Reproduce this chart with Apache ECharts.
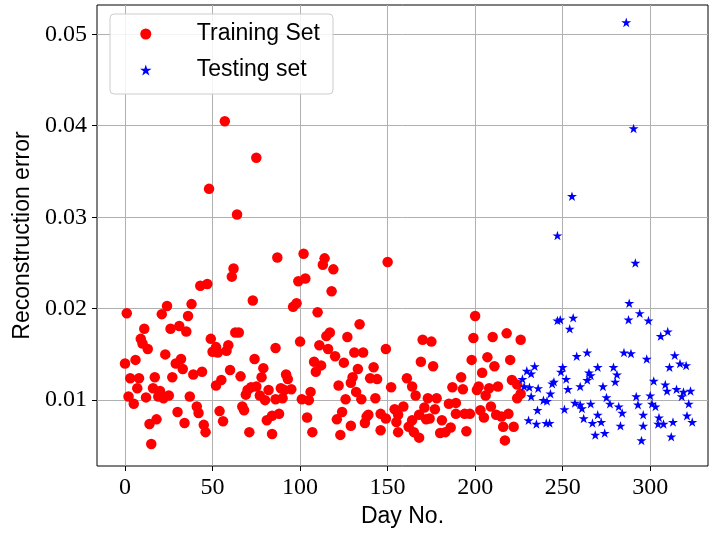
<!DOCTYPE html>
<html>
<head>
<meta charset="utf-8">
<script src="https://cdn.jsdelivr.net/npm/echarts@6/dist/echarts.min.js"></script>
<style>
html,body{margin:0;padding:0;background:#fff;}
#chart{width:716px;height:535px;}
</style>
</head>
<body>
<div id="chart"></div>
<script>
const trainDays = [0,1,2,3,5,6,7,8,9,10,11,12,13,14,15,16,17,18,19,20,21,22,23,24,25,26,27,29,30,31,32,33,34,35,36,37,38,39,41,42,43,44,45,46,47,48,49,50,52,52,53,54,55,56,57,58,59,60,61,62,63,64,65,66,67,68,69,70,71,72,73,74,75,75,77,78,79,80,81,82,84,84,86,86,87,88,89,90,91,92,93,95,96,98,99,100,101,102,103,104,105,106,107,108,109,110,111,112,113,114,115,116,117,118,119,120,121,122,123,124,125,126,127,129,129,130,131,132,133,134,135,136,137,138,139,140,142,143,144,146,146,149,149,150,152,154,155,156,156,159,161,162,164,164,165,166,168,168,169,170,171,172,173,174,175,176,177,178,180,181,183,185,186,187,189,189,192,193,194,195,197,198,199,200,201,202,203,204,205,206,207,208,209,210,211,212,213,215,216,217,218,219,220,221,222,224,224,226,226];
const trainErrors = [0.0140,0.0195,0.0104,0.0124,0.0096,0.0144,0.0113,0.0124,0.0167,0.0162,0.0178,0.0103,0.0156,0.0074,0.0052,0.0113,0.0125,0.0079,0.0104,0.0110,0.0194,0.0102,0.0150,0.0203,0.0105,0.0178,0.0125,0.0140,0.0087,0.0181,0.0145,0.0134,0.0075,0.0175,0.0192,0.0104,0.0205,0.0128,0.0093,0.0086,0.0225,0.0131,0.0073,0.0065,0.0227,0.0331,0.0167,0.0153,0.0158,0.0116,0.0152,0.0088,0.0122,0.0077,0.0405,0.0154,0.0160,0.0133,0.0235,0.0244,0.0174,0.0303,0.0174,0.0126,0.0093,0.0089,0.0106,0.0111,0.0065,0.0114,0.0209,0.0145,0.0365,0.0115,0.0105,0.0125,0.0135,0.0100,0.0078,0.0111,0.0083,0.0063,0.0157,0.0101,0.0256,0.0085,0.0113,0.0102,0.0111,0.0128,0.0123,0.0112,0.0202,0.0206,0.0230,0.0164,0.0101,0.0260,0.0233,0.0081,0.0100,0.0109,0.0065,0.0142,0.0131,0.0196,0.0160,0.0138,0.0248,0.0255,0.0170,0.0156,0.0174,0.0219,0.0243,0.0148,0.0079,0.0116,0.0062,0.0087,0.0141,0.0101,0.0169,0.0119,0.0072,0.0125,0.0152,0.0109,0.0134,0.0183,0.0101,0.0152,0.0075,0.0082,0.0084,0.0124,0.0136,0.0102,0.0123,0.0085,0.0067,0.0156,0.0080,0.0251,0.0114,0.0090,0.0076,0.0084,0.0065,0.0093,0.0124,0.0071,0.0115,0.0078,0.0065,0.0105,0.0084,0.0059,0.0142,0.0166,0.0092,0.0079,0.0102,0.0080,0.0164,0.0137,0.0090,0.0102,0.0064,0.0078,0.0065,0.0096,0.0070,0.0114,0.0097,0.0085,0.0125,0.0112,0.0085,0.0066,0.0085,0.0144,0.0168,0.0192,0.0111,0.0115,0.0089,0.0130,0.0081,0.0105,0.0147,0.0113,0.0093,0.0169,0.0137,0.0084,0.0115,0.0082,0.0071,0.0056,0.0173,0.0085,0.0144,0.0122,0.0071,0.0117,0.0102,0.0166,0.0107];
const testDays = [227,228,229.5,230.5,231,232,232,234,235,235.6,236,239,240.6,241,242.5,243,244,245,247,247,248.6,249,250,251,252,253,254,255.3,256,257,258,260,260,261,262,264,264,265,266,266,267,268.6,270,270,272,273,274,275,277,279,280,281,282,283,284,285,286.3,287.6,288,289,290.5,291.5,292,293,294,295,296,296,298,299,300,301,302,303,304.5,305,306,307.6,308.6,309.6,310,311,312,313,314,315,317,318,319,320.5,321,322,323,324];
const testErrors = [0.0123,0.0115,0.0132,0.0078,0.0114,0.0129,0.0104,0.0137,0.0074,0.0089,0.0113,0.0100,0.0075,0.0099,0.0075,0.0107,0.0118,0.0120,0.0187,0.0280,0.0188,0.0131,0.0136,0.0090,0.0123,0.0112,0.0178,0.0323,0.0190,0.0097,0.0148,0.0115,0.0095,0.0091,0.0080,0.0152,0.0122,0.0130,0.0096,0.0127,0.0075,0.0062,0.0136,0.0084,0.0076,0.0115,0.0064,0.0103,0.0096,0.0136,0.0120,0.0128,0.0093,0.0072,0.0086,0.0152,0.0513,0.0188,0.0206,0.0151,0.0397,0.0250,0.0104,0.0095,0.0195,0.0056,0.0084,0.0072,0.0145,0.0187,0.0105,0.0096,0.0121,0.0093,0.0074,0.0081,0.0170,0.0074,0.0117,0.0110,0.0175,0.0136,0.0060,0.0076,0.0149,0.0112,0.0140,0.0104,0.0109,0.0138,0.0083,0.0096,0.0110,0.0076];
const xTicks = [0,50,100,150,200,250,300];
const yTicks = [0.01,0.02,0.03,0.04,0.05];
const seriesNames = ['Training Set','Testing set'];

const star = 'path://M100,0 L122.45,69.1 L195.1,69.1 L136.3,111.8 L158.8,180.9 L100,138.2 L41.2,180.9 L63.7,111.8 L4.9,69.1 L77.55,69.1 Z';
const zip = (a,b) => a.map((v,i)=>[v,b[i]]);

const chart = echarts.init(document.getElementById('chart'), null, {renderer:'canvas'});
const serifFont = '"Liberation Serif", "DejaVu Serif", serif';
const sansFont = '"Liberation Sans", "DejaVu Sans", sans-serif';
chart.setOption({
  animation:false,
  backgroundColor:'#fff',
  grid:{left:97, right:8, top:5, bottom:69, show:true, borderColor:'#000', borderWidth:1, backgroundColor:'transparent'},
  xAxis:{
    type:'value', min:-16, max:333,
    name:'Day No.', nameLocation:'middle', nameGap:38,
    nameTextStyle:{fontFamily:sansFont, fontSize:23, color:'#000'},
    axisLine:{show:false, onZero:false},
    axisTick:{show:true, inside:false, length:5, lineStyle:{color:'#000'}, customValues:xTicks},
    axisLabel:{fontFamily:serifFont, fontSize:24, color:'#000', margin:10, customValues:xTicks},
    splitLine:{show:true, lineStyle:{color:'#b0b0b0', width:1}}
  },
  yAxis:{
    type:'value', min:0.0028, max:0.0532,
    name:'Reconstruction error', nameLocation:'middle', nameGap:62, nameRotate:90,
    nameTextStyle:{fontFamily:sansFont, fontSize:23, color:'#000'},
    axisLine:{show:false, onZero:false},
    axisTick:{show:true, inside:false, length:5, lineStyle:{color:'#000'}, customValues:yTicks},
    axisLabel:{fontFamily:serifFont, fontSize:24, color:'#000', margin:10, customValues:yTicks,
      formatter:(v)=>v.toFixed(2)},
    splitLine:{show:true, lineStyle:{color:'#b0b0b0', width:1}}
  },
  graphic:[{type:'rect', z:100, silent:true, shape:{x:110, y:14, width:223, height:80, r:4},
    style:{fill:'rgba(255,255,255,0.85)', stroke:'#cccccc', lineWidth:1}}],
  legend:{
    orient:'vertical', left:140, top:21, padding:0, itemGap:10,
    itemWidth:12, itemHeight:11, z:101,
    textStyle:{fontFamily:sansFont, fontSize:23, color:'#000', lineHeight:26, padding:[0,0,0,40]},
    data:[{name:seriesNames[0], icon:'circle'},{name:seriesNames[1], icon:star}]
  },
  series:[
    {name:seriesNames[0], type:'scatter', data:zip(trainDays,trainErrors), symbol:'circle', symbolSize:10.5,
     itemStyle:{color:'#ff0000', opacity:1}},
    {name:seriesNames[1], type:'scatter', data:zip(testDays,testErrors), symbol:star, symbolSize:10, symbolKeepAspect:true,
     itemStyle:{color:'#0000ff', opacity:1}}
  ]
});
</script>
</body>
</html>
